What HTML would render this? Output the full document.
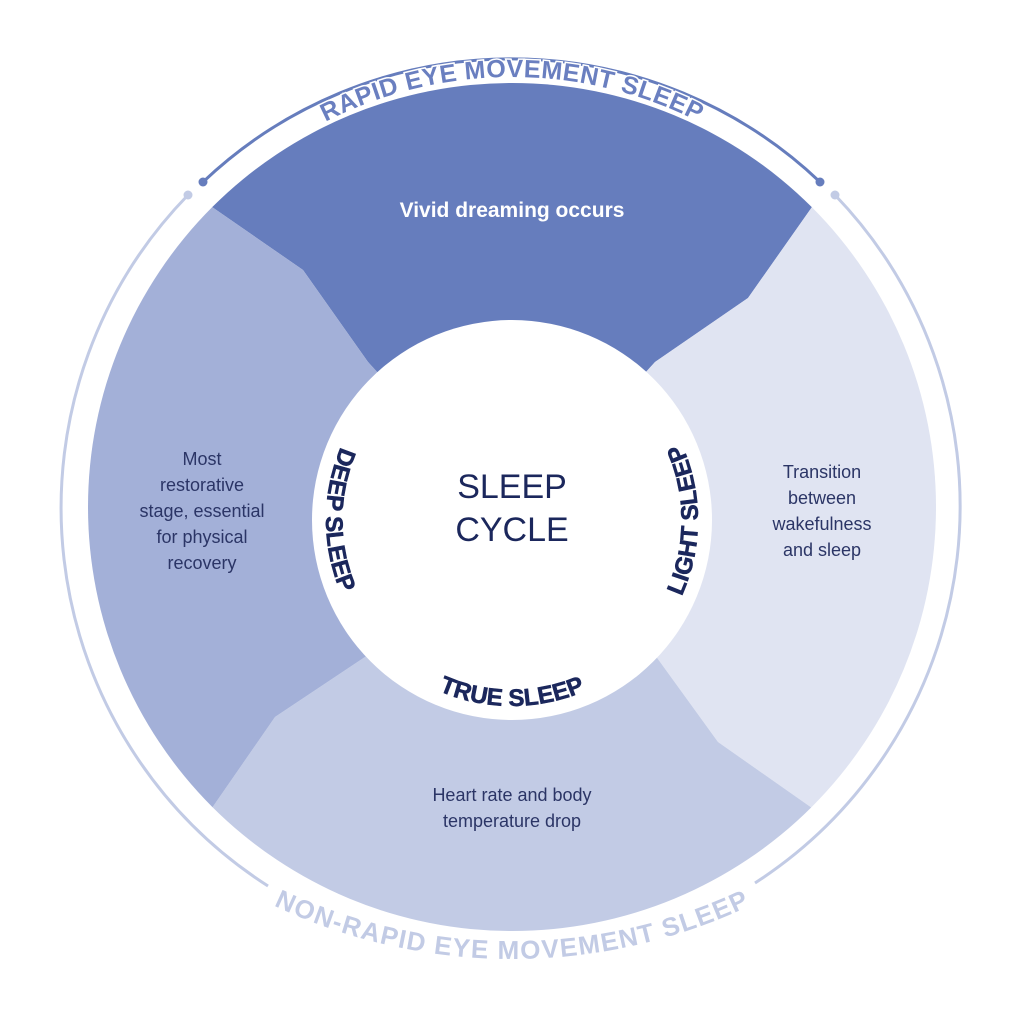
<!DOCTYPE html>
<html><head><meta charset="utf-8"><style>
html,body{margin:0;padding:0;background:#fff;}
svg{display:block;}
</style></head><body>
<svg width="1024" height="1024" viewBox="0 0 1024 1024" xmlns="http://www.w3.org/2000/svg" font-family="Liberation Sans, sans-serif">
<defs>
<clipPath id="disk"><circle cx="512" cy="507" r="424"/></clipPath>
<path id="inner" d="M512,334 A186,186 0 0 0 512,706 A186,186 0 0 0 512,334"/>
<path id="topArc" d="M101,488 A411,411 0 0 1 923,488"/>
<path id="botArc" d="M-26,402 A538,538 0 0 0 1050,402"/>
</defs>
<g clip-path="url(#disk)">
<polygon fill="#667dbd" points="150,164 212,207 303,270 368,362 512,520 655,362 748,298 812,207 870,125 870,0 150,0"/>
<polygon fill="#e0e4f2" points="655,362 748,298 812,207 870,125 1024,125 1024,856 880,856 812,808 718,742 655,655 512,520"/>
<polygon fill="#c2cbe5" points="655,655 718,742 812,808 880,856 880,1024 150,1024 150,890 212,808 275,717 368,655 512,520"/>
<polygon fill="#a3b0d8" points="368,655 275,717 212,808 150,890 0,890 0,164 150,164 212,207 303,270 368,362 512,520"/>
</g>
<circle cx="512" cy="520" r="200" fill="#fff"/>
<path d="M203,182 A448,448 0 0 1 820,182" fill="none" stroke="#667dbd" stroke-width="3"/>
<circle cx="203" cy="182" r="4.5" fill="#667dbd"/>
<circle cx="820" cy="182" r="4.5" fill="#667dbd"/>
<path d="M188,195 A449,449 0 0 0 268,886" fill="none" stroke="#c2cbe5" stroke-width="3"/>
<path d="M755,883 A449,449 0 0 0 835,195" fill="none" stroke="#c2cbe5" stroke-width="3"/>
<circle cx="188" cy="195" r="4.5" fill="#c2cbe5"/>
<circle cx="835" cy="195" r="4.5" fill="#c2cbe5"/>
<text font-size="25" font-weight="bold" fill="#6a7fc0" letter-spacing="0.5" stroke="#fff" stroke-width="3" paint-order="stroke"><textPath href="#topArc" startOffset="50%" text-anchor="middle">RAPID EYE MOVEMENT SLEEP</textPath></text>
<text font-size="26" font-weight="bold" fill="#c2cbe5" letter-spacing="0.7"><textPath href="#botArc" startOffset="50%" text-anchor="middle" dominant-baseline="hanging">NON-RAPID EYE MOVEMENT SLEEP</textPath></text>
<g font-size="24" font-weight="bold" fill="#1b275c" stroke="#1b275c" stroke-width="0.6">
<text><textPath href="#inner" startOffset="25%" text-anchor="middle">DEEP SLEEP</textPath></text>
<text><textPath href="#inner" startOffset="50%" text-anchor="middle">TRUE SLEEP</textPath></text>
<text><textPath href="#inner" startOffset="75%" text-anchor="middle">LIGHT SLEEP</textPath></text>
</g>
<g font-size="34" fill="#1b275c" text-anchor="middle">
<text x="512" y="498">SLEEP</text>
<text x="512" y="541">CYCLE</text>
</g>
<text x="512" y="217" font-size="21" font-weight="bold" fill="#fff" text-anchor="middle">Vivid dreaming occurs</text>
<g font-size="18" fill="#2b3566" text-anchor="middle">
<text x="202" y="465">Most</text>
<text x="202" y="491">restorative</text>
<text x="202" y="517">stage, essential</text>
<text x="202" y="543">for physical</text>
<text x="202" y="569">recovery</text>
<text x="822" y="478">Transition</text>
<text x="822" y="504">between</text>
<text x="822" y="530">wakefulness</text>
<text x="822" y="556">and sleep</text>
<text x="512" y="801">Heart rate and body</text>
<text x="512" y="827">temperature drop</text>
</g>
</svg>
</body></html>
